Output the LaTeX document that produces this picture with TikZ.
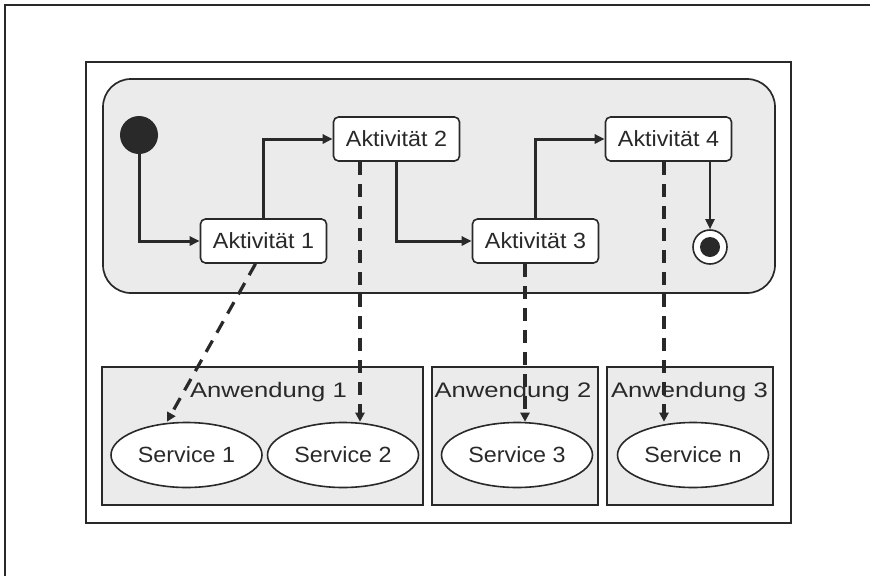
\documentclass[tikz,border=0pt]{standalone}
\usepackage{fontspec}
\setmainfont{Liberation Sans}
\newfontfamily\appfont[FakeStretch=1.22]{Liberation Sans}
\newfontfamily\srvfont[FakeStretch=1.06]{Liberation Sans}
\usetikzlibrary{arrows.meta,shapes.geometric}
\definecolor{panelgray}{gray}{0.92}
\definecolor{linegray}{gray}{0.16}

\begin{document}
\begin{tikzpicture}[x=1pt,y=-1pt]
            \tikzstyle{every node}=[inner sep=0pt, text=linegray];
            \tikzstyle{activity}=[draw=linegray, line width=1.6pt, fill=white, rounded corners=5pt,
                minimum width=126pt, minimum height=44pt, font=\srvfont\fontsize{22}{26}\selectfont];
            \tikzstyle{service}=[draw=linegray, line width=1.6pt, fill=white, ellipse,
                minimum width=151pt, minimum height=65pt, font=\srvfont\fontsize{22}{26}\selectfont];
            \tikzstyle{appbox}=[draw=linegray, line width=1.6pt, fill=panelgray, minimum height=138pt];
            \tikzstyle{applabel}=[anchor=base, font=\appfont\fontsize{21}{25}\selectfont];
            \tikzstyle{flow}=[draw=linegray, line width=3pt, -{Triangle[length=10pt,width=9pt]}];
            \tikzstyle{uses}=[draw=linegray, line width=3.2pt, dash pattern=on 13pt off 9pt,
                -{Triangle[length=9pt,width=9pt]}];
            \useasboundingbox (0,0) rectangle (870,576);
            % scan border, frame and state panel
            \draw[linegray, line width=1.8pt] (5,576) -- (5,5) -- (870,5);
            \draw[linegray, line width=1.7pt] (86,62) rectangle (791,523);
            \draw[linegray, line width=1.7pt, fill=panelgray, rounded corners=28pt] (103,79) rectangle (775,293);
            % applications
            \node[appbox, minimum width=321pt] (app1) at (262.5,436) {};
            \node[appbox, minimum width=166pt] (app2) at (515,436) {};
            \node[appbox, minimum width=166pt] (app3) at (690,436) {};
            \node[applabel] (l1) at (268.5,397) {Anwendung 1};
            \node[applabel] (l2) at (513,397) {Anwendung 2};
            \node[applabel] (l3) at (689.5,397) {Anwendung 3};
            \node[service] (s1) at (186.5,455) {Service 1};
            \node[service] (s2) at (343,455) {Service 2};
            \node[service] (s3) at (517,455) {Service 3};
            \node[service] (s4) at (693,455) {Service n};
            % activities
            \node[circle, fill=linegray, minimum size=38pt] (start) at (139,135) {};
            \node[activity] (a1) at (263.5,241) {Aktivität 1};
            \node[activity] (a2) at (396.5,139) {Aktivität 2};
            \node[activity] (a3) at (535.5,241) {Aktivität 3};
            \node[activity] (a4) at (668.5,139) {Aktivität 4};
            \node[circle, draw=linegray, line width=1.6pt, fill=white, minimum size=34pt] (stop) at (710,247) {};
            \node[circle, fill=linegray, minimum size=20pt] at (stop) {};
            \draw[flow] (start) |- (a1.west);
            \draw[flow] (a1.north) |- (a2.west);
            \draw[flow] (a2.south) |- (a3.west);
            \draw[flow] (a3.north) |- (a4.west);
            \draw[flow, line width=2.2pt] (a4.south -| stop.north) -- (stop.north);
            \draw[uses] ([xshift=-8pt]a1.south) -- ([xshift=-19.5pt]s1.north);
            \draw[uses] ([xshift=-36.5pt]a2.south) -- ([xshift=-36.5pt]a2.south |- s2.north);
            \draw[uses] ([xshift=-10.5pt]a3.south) -- ([xshift=-10.5pt]a3.south |- s3.north);
            \draw[uses] ([xshift=-4.5pt]a4.south) -- ([xshift=-4.5pt]a4.south |- s4.north);
        \end{tikzpicture}
\end{document}
